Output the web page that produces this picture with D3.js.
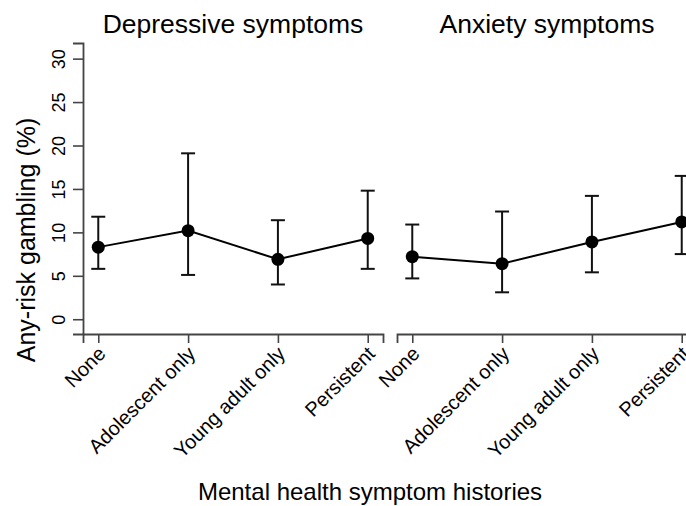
<!DOCTYPE html>
<html>
<head>
<meta charset="utf-8">
<script src="https://cdn.jsdelivr.net/npm/d3@7"></script>
<style>
  body { margin: 0; background: #fff; }
  text { font-family: "Liberation Sans", Arial, sans-serif; fill: #000; }
</style>
</head>
<body>
<script>
// categories and panels
var categories = ["None", "Adolescent only", "Young adult only", "Persistent"];
var panelTitles = ["Depressive symptoms", "Anxiety symptoms"];
var yTicks = [0, 5, 10, 15, 20, 25, 30];

// estimates and 95% CI
var depEst = [8.3, 10.2, 6.9, 9.3];
var depLo  = [5.8, 5.1, 4.0, 5.8];
var depHi  = [11.8, 19.1, 11.4, 14.8];
var anxEst = [7.2, 6.4, 8.9, 11.2];
var anxLo  = [4.7, 3.1, 5.4, 7.5];
var anxHi  = [10.9, 12.4, 14.2, 16.5];

var width = 686, height = 506;
var axisCol = "#444";

var svg = d3.select("body").append("svg")
    .attr("width", width)
    .attr("height", height);

var y = d3.scaleLinear().domain([-1.7, 31.8]).range([334, 43]);

var panels = [
  {title: panelTitles[0], est: depEst, lo: depLo, hi: depHi, x0: 83, x1: 383},
  {title: panelTitles[1], est: anxEst, lo: anxLo, hi: anxHi, x0: 397, x1: 697}
];

panels.forEach(function(p, k){
    var x = d3.scalePoint().domain(categories).range([p.x0, p.x1]).padding(0.17);

    // x axis
    var gx = svg.append("g")
        .attr("transform", "translate(0," + y.range()[0] + ")")
        .call(d3.axisBottom(x).tickSizeOuter(0).tickSize(9));
    gx.select(".domain").attr("stroke", axisCol).attr("stroke-width", 1.8);
    gx.selectAll(".tick line").attr("stroke", axisCol).attr("stroke-width", 1.6);
    gx.selectAll(".tick text")
        .attr("x", 0).attr("y", 0).attr("dy", 0)
        .attr("transform", "translate(8,21) rotate(-45)")
        .attr("text-anchor", "end")
        .style("font-size", "20px")
        .style("font-family", "'Liberation Sans', Arial, sans-serif")
        .attr("fill", "#000");

    // y axis only on the first panel
    if(k == 0){
        var gy = svg.append("g")
            .attr("transform", "translate(" + p.x0 + ",0)")
            .call(d3.axisLeft(y).tickValues(yTicks).tickSizeOuter(0).tickSize(10));
        gy.select(".domain").attr("stroke", axisCol).attr("stroke-width", 1.8);
        gy.selectAll(".tick line").attr("stroke", axisCol).attr("stroke-width", 1.6);
        gy.selectAll(".tick text")
            .attr("x", 0).attr("y", 0).attr("dy", 0)
            .attr("transform", "translate(-18,0) rotate(-90)")
            .attr("text-anchor", "middle")
            .style("font-size", "18px")
            .style("font-family", "'Liberation Sans', Arial, sans-serif")
            .attr("fill", "#000");
    }

    // panel title
    svg.append("text")
        .attr("x", (p.x0 + p.x1) / 2)
        .attr("y", 33)
        .attr("text-anchor", "middle")
        .style("font-size", "26.5px")
        .text(p.title);

    var idx = d3.range(categories.length);

    // error bars
    var eb = svg.append("g").attr("stroke", "#111").attr("stroke-width", 2);
    idx.forEach(function(i){
        var cx = x(categories[i]);
        eb.append("line").attr("x1", cx).attr("x2", cx)
            .attr("y1", y(p.lo[i])).attr("y2", y(p.hi[i]));
        eb.append("line").attr("x1", cx - 7).attr("x2", cx + 7)
            .attr("y1", y(p.lo[i])).attr("y2", y(p.lo[i]));
        eb.append("line").attr("x1", cx - 7).attr("x2", cx + 7)
            .attr("y1", y(p.hi[i])).attr("y2", y(p.hi[i]));
    });

    // connecting line
    var line = d3.line()
        .x(function(i){ return x(categories[i]); })
        .y(function(i){ return y(p.est[i]); });
    svg.append("path")
        .datum(idx)
        .attr("d", line)
        .attr("fill", "none")
        .attr("stroke", "#000")
        .attr("stroke-width", 2);

    // points
    svg.append("g").selectAll("circle")
        .data(idx)
        .enter()
        .append("circle")
        .attr("cx", function(i){ return x(categories[i]); })
        .attr("cy", function(i){ return y(p.est[i]); })
        .attr("r", 6.5)
        .attr("fill", "#000");
});

// axis titles
svg.append("text")
    .attr("transform", "translate(35,240) rotate(-90)")
    .attr("text-anchor", "middle")
    .style("font-size", "25px")
    .text("Any-risk gambling (%)");

svg.append("text")
    .attr("x", 370)
    .attr("y", 500)
    .attr("text-anchor", "middle")
    .style("font-size", "24px")
    .text("Mental health symptom histories");
</script>
</body>
</html>
